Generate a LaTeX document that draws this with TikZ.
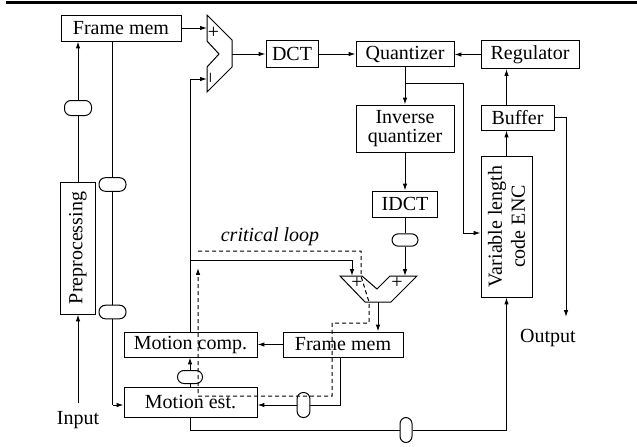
\documentclass[tikz,border=0pt]{standalone}
\usepackage{fontspec}
\setmainfont{Liberation Serif}
\usetikzlibrary{arrows.meta,calc}
\begin{document}
\begin{tikzpicture}[x=0.5pt,y=-0.5pt,line width=0.5pt,
  >={Latex[length=3.4pt,width=2.2pt]},
  box/.style={draw, inner sep=0pt, font=\fontsize{10}{12}\selectfont, align=center},
  oval/.style={draw, inner sep=0pt, rounded corners=3.2pt, minimum width=13.5pt, minimum height=6.8pt},
  voval/.style={draw, inner sep=0pt, rounded corners=3.1pt, minimum width=6.4pt, minimum height=12.5pt},
  sgn/.style={inner sep=0pt, font=\fontsize{10}{10}\selectfont},
  lbl/.style={inner sep=0pt, font=\fontsize{10}{12}\selectfont},
  loop/.style={dashed, dash pattern=on 2pt off 1.5pt}]
\useasboundingbox (0,0) rectangle (637,446);
% top rule
\draw[line width=1.3pt] (6,2.3) -- (637,2.3);
% boxes
\node[box, minimum width=60pt, minimum height=13pt] (fm1) at (121,28) {Frame mem};
\node[box, minimum width=26pt, minimum height=13.5pt] (dct) at (292,54) {DCT};
\node[box, minimum width=49pt, minimum height=12.5pt] (quant) at (405,54) {Quantizer};
\node[box, minimum width=49pt, minimum height=14pt] (reg) at (530,54.5) {Regulator};
\node[box, minimum width=36.5pt, minimum height=12.5pt] (buf) at (517.5,117.5) {Buffer};
\node[box, minimum width=49pt, minimum height=23.5pt, font=\fontsize{10}{9.2}\selectfont] (invq) at (405,128.5) {Inverse\\quantizer};
\node[box, minimum width=32.5pt, minimum height=13pt] (idct) at (405,204) {IDCT};
\node[box, rotate=90, minimum width=70.5pt, minimum height=25.5pt, font=\fontsize{10}{11.5}\selectfont] (vlc) at (506.5,226.5) {Variable length\\code ENC};
\node[box, rotate=90, minimum width=66pt, minimum height=17.5pt] (pre) at (78,248) {Preprocessing};
\node[box, minimum width=66.5pt, minimum height=12.5pt] (mc) at (190.5,344.5) {Motion comp.};
\node[box, minimum width=60pt, minimum height=12.5pt] (fm2) at (343,344.5) {Frame mem};
\node[box, minimum width=66.5pt, minimum height=15pt] (me) at (190.5,402) {Motion est.};
% subtractor
\draw (207,15) -- (232,40) -- (232,67) -- (207,92) -- (207,67) -- (219,54) -- (207,41) -- cycle;
\coordinate (subp) at (207,28);
\coordinate (subm) at (207,79);
\coordinate (subo) at (232,54);
\node[sgn] at (213.5,33) {+};
\node[sgn, rotate=90] at (213.5,78) {−};
% adder
\draw (340,276) -- (362,276) -- (377,289) -- (390,276) -- (417,276) -- (391,302) -- (365,302) -- cycle;
\coordinate (addl) at (352,276);
\coordinate (addr) at (405,276);
\coordinate (addo) at (378,302);
\node[sgn] at (357,283) {+};
\node[sgn] at (397,283) {+};
% ovals
\node[oval, minimum height=7.5pt] (ov5) at (78,108) {};
\node[oval] (ov6) at (112.5,184.5) {};
\node[oval] (ov7) at (112.5,312) {};
\node[oval, minimum width=13pt, minimum height=6.2pt] (ov1) at (405,240) {};
\node[oval, minimum width=12.5pt, minimum height=6.5pt] (ov2) at (190,377) {};
\node[voval] (ov3) at (303.5,405) {};
\node[voval, minimum width=6pt] (ov4) at (406,430) {};
% labels
\node[lbl] (inp) at (78,420) {Input};
\node[lbl] (outl) at (548,338) {Output};
\node[lbl, font=\fontsize{10}{12}\selectfont\itshape] (crit) at (270,237) {critical loop};
\coordinate (outend) at (566,317);
\coordinate (qb) at (405,83);
\coordinate (qc) at (463,233);
\coordinate (br) at (190,260);
\coordinate (c1) at (340,405);
\coordinate (c2) at (190,430);
\coordinate (c3) at (112.5,405);
\coordinate (inptop) at (78,403);
% connectors
\draw[->] (fm1.east) -- (subp);
\draw[->] (subo) -- (dct.west);
\draw[->] (dct.east) -- (quant.west);
\draw[->] (reg.west) -- (reg.west -| quant.east);
\draw[->] (vlc.east) -- (buf.south -| vlc.east);
\draw[->] (buf.north -| vlc.east) -- (reg.south -| vlc.east);
\draw[->] (buf.east) -| (outend);
\draw[->] (quant.south) -- (invq.north);
\draw[->] (qb) -| (qc) -- (qc -| vlc.north);
\draw[->] (invq.south) -- (idct.north);
\draw (idct.south) -- (ov1);
\draw[->] (ov1) -- (addr);
\draw[->] (addo) -- (addo |- fm2.north);
\draw[->] (fm2.west) -- (mc.east);
\draw[->] (mc.north -| br) -- (br |- subm) -- (subm);
\draw[->] (br) -| (addl);
\draw (me.north -| ov2) -- (ov2);
\draw[->] (ov2) -- (ov2 |- mc.south);
\draw (fm2.south -| c1) -- (c1) -- (ov3);
\draw[->] (ov3) -- (ov3 -| me.east);
\draw (me.south -| c2) -- (c2) -- (ov4);
\draw[->] (ov4) -| (vlc.west);
\draw[->] (inptop) -- (pre.west);
\draw (pre.east) -- (ov5);
\draw[->] (ov5) -- (ov5 |- fm1.south);
\draw (fm1.south -| c3) -- (ov6);
\draw (ov6) -- (ov7);
\draw (ov7) -- (c3);
\draw[->] (c3) -- (c3 -| me.west);
% critical loop
\draw[loop, ->] (198,251) -- (361,251) -- (361,276) -- (369,302) -- (369,323) -- (332,323) -- (332,396) -- (198,396) -- (198,268);
\end{tikzpicture}
\end{document}
